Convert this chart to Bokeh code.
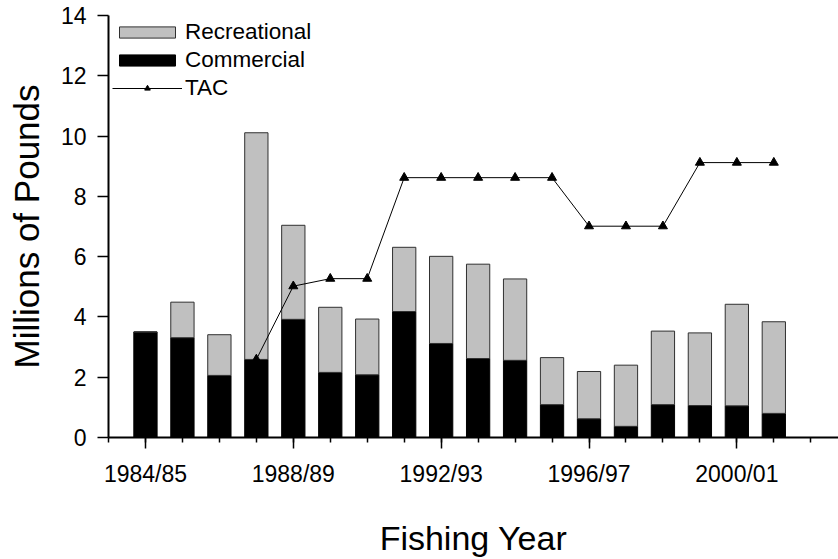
from bokeh.plotting import figure
from bokeh.models import ColumnDataSource, FixedTicker, Legend, LegendItem, Range1d
from bokeh.embed import file_html
from bokeh.resources import INLINE

# ---- data ----
years = ["1984/85", "1985/86", "1986/87", "1987/88", "1988/89", "1989/90",
         "1990/91", "1991/92", "1992/93", "1993/94", "1994/95", "1995/96",
         "1996/97", "1997/98", "1998/99", "1999/00", "2000/01", "2001/02"]
commercial = [3.50, 3.31, 2.06, 2.59, 3.92, 2.16, 2.08, 4.18, 3.12,
              2.62, 2.56, 1.09, 0.62, 0.37, 1.09, 1.06, 1.05, 0.80]
recreational = [0.00, 1.18, 1.35, 7.52, 3.12, 2.16, 1.85, 2.13, 2.89,
                3.13, 2.70, 1.56, 1.57, 2.03, 2.44, 2.41, 3.37, 3.04]
tac_years = ["1987/88", "1988/89", "1989/90", "1990/91", "1991/92", "1992/93",
             "1993/94", "1994/95", "1995/96", "1996/97", "1997/98", "1998/99",
             "1999/00", "2000/01", "2001/02"]
tac = [2.59, 5.02, 5.27, 5.27, 8.62, 8.62, 8.62, 8.62, 8.62,
       7.01, 7.01, 7.01, 9.12, 9.12, 9.12]
y_ticks = [0, 2, 4, 6, 8, 10, 12, 14]
labelled_every = 4

FONT = "Liberation Sans"

xs = list(range(len(years)))
src = ColumnDataSource(dict(x=xs, year=years, commercial=commercial,
                            recreational=recreational))
tac_src = ColumnDataSource(dict(x=[years.index(y) for y in tac_years], tac=tac))

p = figure(width=838, height=559, output_backend="svg", toolbar_location=None,
           x_range=Range1d(-1, 18.75), y_range=Range1d(0, 14),
           min_border_left=108, min_border_right=0, min_border_top=15,
           min_border_bottom=121)
p.outline_line_color = None
p.xgrid.visible = False
p.ygrid.visible = False
p.background_fill_color = "white"
p.border_fill_color = "white"

rs = p.vbar_stack(["commercial", "recreational"], x="x", width=0.63, source=src,
                  fill_color=["black", "#c0c0c0"], line_color=["black", "#303030"],
                  line_width=1)
ln = p.line("x", "tac", source=tac_src, line_color="black", line_width=1)
mk = p.scatter("x", "tac", source=tac_src, marker="triangle", size=9,
               fill_color="black", line_color="black")

legend = Legend(items=[LegendItem(label="Recreational", renderers=[rs[1]]),
                       LegendItem(label="Commercial", renderers=[rs[0]]),
                       LegendItem(label="TAC", renderers=[ln, mk])],
                location="top_left", margin=4, padding=0, spacing=2,
                glyph_width=70, glyph_height=14, label_height=20,
                label_standoff=3, label_text_font=FONT,
                label_text_font_size="22.5px", label_text_color="black",
                border_line_color=None, background_fill_alpha=0)
p.add_layout(legend)

major = list(range(0, len(years), labelled_every))
p.xaxis.ticker = FixedTicker(ticks=major, minor_ticks=list(range(-1, len(years) + 1)))
p.xaxis.major_label_overrides = {i: years[i] for i in major}
p.yaxis.ticker = FixedTicker(ticks=y_ticks)

for ax in (p.xaxis[0], p.yaxis[0]):
    ax.axis_line_color = "black"
    ax.axis_line_width = 2
    ax.major_tick_line_color = "black"
    ax.major_tick_line_width = 1.5
    ax.major_tick_in = 0
    ax.major_tick_out = 11
    ax.major_label_text_font = FONT
    ax.major_label_text_font_size = "23px"
    ax.major_label_text_color = "black"
    ax.axis_label_text_font = FONT
    ax.axis_label_text_font_style = "normal"
    ax.axis_label_text_color = "black"

p.xaxis.minor_tick_line_color = "black"
p.xaxis.minor_tick_line_width = 1.5
p.xaxis.minor_tick_in = 0
p.xaxis.minor_tick_out = 5
p.yaxis.minor_tick_line_color = None
p.xaxis.major_label_standoff = 12
p.yaxis.major_label_standoff = 11
p.xaxis.axis_label = "Fishing Year"
p.yaxis.axis_label = "Millions of Pounds"
p.xaxis.axis_label_text_font_size = "34px"
p.yaxis.axis_label_text_font_size = "35px"
p.xaxis.axis_label_standoff = 29
p.yaxis.axis_label_standoff = 12

open("out.html", "w").write(file_html(p, INLINE))
